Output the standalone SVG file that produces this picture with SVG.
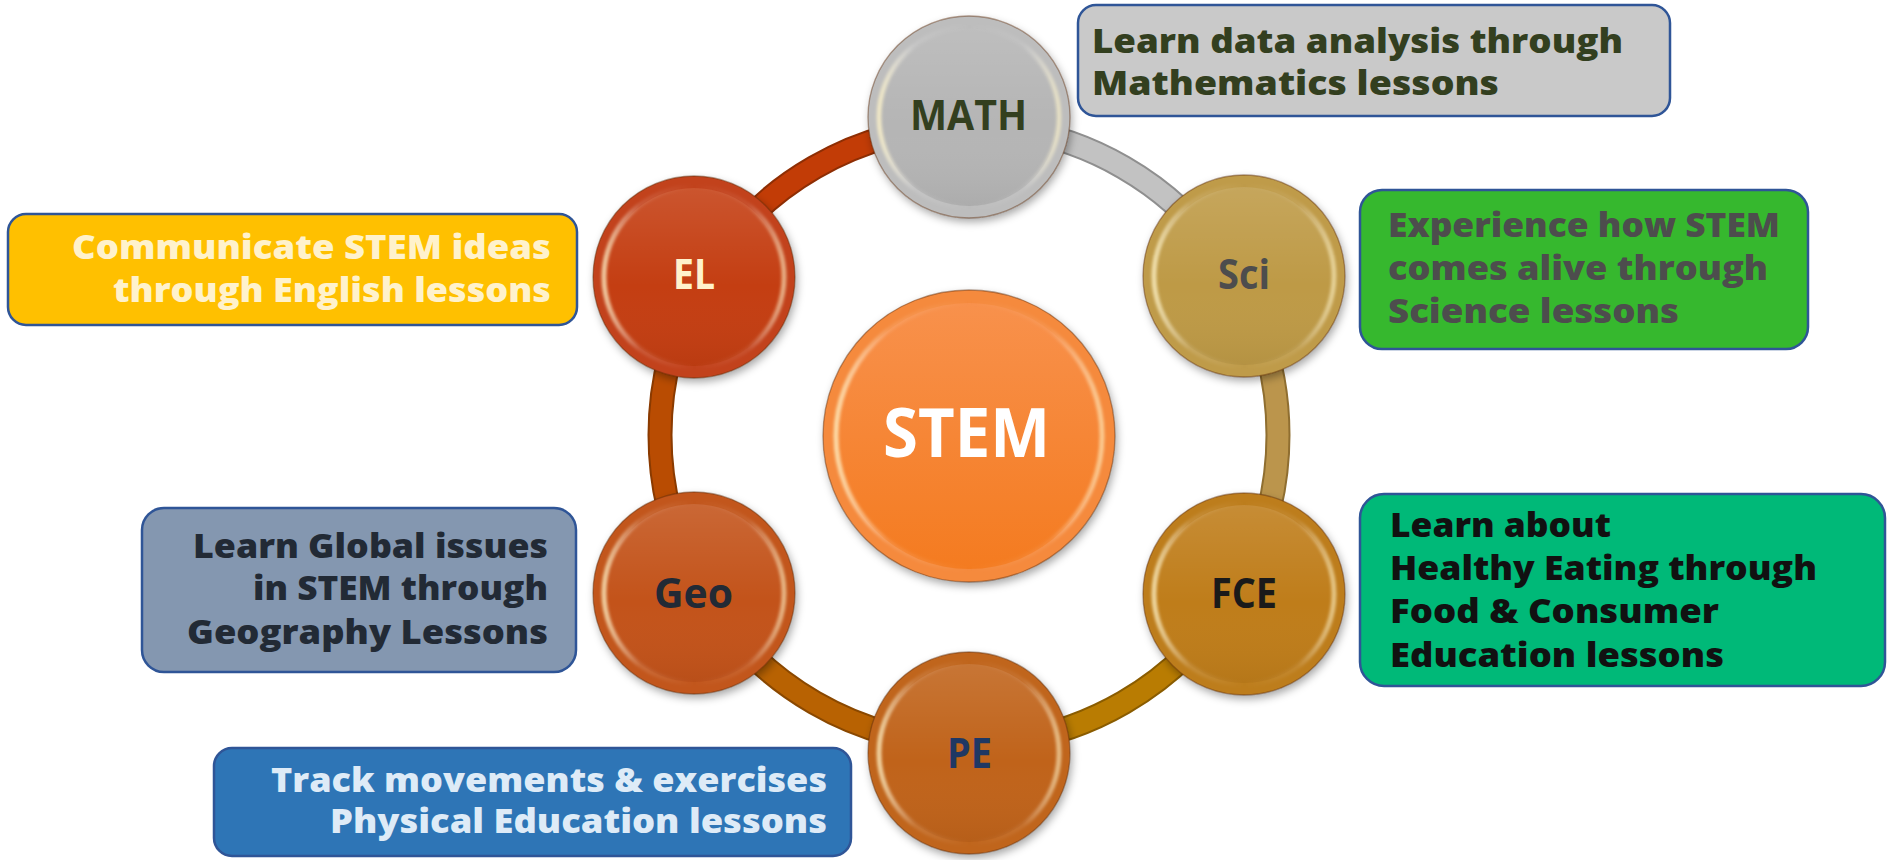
<svg xmlns="http://www.w3.org/2000/svg" width="1888" height="860" viewBox="0 0 1888 860">
<defs>
  <style>
    .bt{font-family:"Open Sans","Liberation Sans",sans-serif;font-weight:800;font-size:34px;}
    .nl{font-family:"Open Sans","Liberation Sans",sans-serif;font-weight:700;font-size:41px;text-anchor:middle;}
    .box{stroke:#2f5597;stroke-width:2.5;}
    .ringb{fill:none;stroke-width:25;stroke-linecap:butt;}
    .ring{fill:none;stroke-width:21;stroke-linecap:butt;}
    .edge{fill:none;stroke:#5a2a08;stroke-opacity:.45;stroke-width:1.3;}
    .rim{fill:none;stroke:url(#rimhl);stroke-width:5;}
  </style>
  <linearGradient id="gloss" x1="0" y1="0" x2="0" y2="1">
    <stop offset="0" stop-color="#fff" stop-opacity=".2"/>
    <stop offset=".5" stop-color="#fff" stop-opacity="0"/>
    <stop offset="1" stop-color="#000" stop-opacity=".08"/>
  </linearGradient>
  <linearGradient id="gloss2" x1="0" y1="0" x2="0" y2="1">
    <stop offset="0" stop-color="#fff" stop-opacity=".12"/>
    <stop offset=".55" stop-color="#fff" stop-opacity="0"/>
    <stop offset="1" stop-color="#000" stop-opacity=".05"/>
  </linearGradient>
  <linearGradient id="rimhl" x1="0" y1="0" x2="1" y2="0">
    <stop offset="0" stop-color="#fff4c8" stop-opacity=".75"/>
    <stop offset=".2" stop-color="#fff" stop-opacity=".12"/>
    <stop offset=".5" stop-color="#fff" stop-opacity="0"/>
    <stop offset=".8" stop-color="#fff" stop-opacity=".08"/>
    <stop offset="1" stop-color="#fff4c8" stop-opacity=".6"/>
  </linearGradient>
  <linearGradient id="stemg" x1="0" y1="0" x2="0" y2="1">
    <stop offset="0" stop-color="#f8914c"/>
    <stop offset="1" stop-color="#f47b20"/>
  </linearGradient>
  <filter id="shadow" x="-20%" y="-20%" width="140%" height="140%">
    <feDropShadow dx="2" dy="4" stdDeviation="4" flood-color="#000" flood-opacity=".35"/>
  </filter>
  <filter id="soft" x="-10%" y="-10%" width="120%" height="120%">
    <feGaussianBlur stdDeviation="1.4"/>
  </filter>
</defs>
<rect width="1888" height="860" fill="#fff"/>

<g id="connectors">
  <path class="ringb" stroke="#8e2e04" d="M701.4 280.5 A309 309 0 0 1 969 126"/>
  <path class="ring" stroke="#c23c06" d="M701.4 280.5 A309 309 0 0 1 969 126"/>
  <path class="ringb" stroke="#8f8f8f" d="M969 126 A309 309 0 0 1 1236.6 280.5"/>
  <path class="ring" stroke="#c2c2c2" d="M969 126 A309 309 0 0 1 1236.6 280.5"/>
  <path class="ringb" stroke="#8f6e30" d="M1236.6 280.5 A309 309 0 0 1 1236.6 589.5"/>
  <path class="ring" stroke="#bb954c" d="M1236.6 280.5 A309 309 0 0 1 1236.6 589.5"/>
  <path class="ringb" stroke="#8a5c00" d="M1236.6 589.5 A309 309 0 0 1 969 744"/>
  <path class="ring" stroke="#b97c02" d="M1236.6 589.5 A309 309 0 0 1 969 744"/>
  <path class="ringb" stroke="#8a4800" d="M969 744 A309 309 0 0 1 701.4 589.5"/>
  <path class="ring" stroke="#b86202" d="M969 744 A309 309 0 0 1 701.4 589.5"/>
  <path class="ringb" stroke="#8a3a00" d="M701.4 589.5 A309 309 0 0 1 701.4 280.5"/>
  <path class="ring" stroke="#b94c02" d="M701.4 589.5 A309 309 0 0 1 701.4 280.5"/>
</g>

<g id="node-stem">
  <circle cx="969" cy="436" r="146" fill="#f58a3e" filter="url(#shadow)"/>
  <circle cx="969" cy="436" r="146" fill="url(#gloss)" class="edge"/>
  <circle cx="969" cy="436" r="133" fill="url(#stemg)"/>
  <circle cx="969" cy="436" r="133" class="rim" filter="url(#soft)"/>
  <text x="966.5" y="457" class="nl" style="font-size:68px" fill="#fff" textLength="167" lengthAdjust="spacingAndGlyphs">STEM</text>
</g>

<g id="node-math">
  <circle cx="969" cy="117" r="101" fill="#bdbdbd" filter="url(#shadow)"/>
  <circle cx="969" cy="117" r="101" fill="url(#gloss)" class="edge"/>
  <circle cx="969" cy="117" r="89" fill="#b5b5b5"/>
  <circle cx="969" cy="117" r="89" fill="url(#gloss2)"/>
  <circle cx="969" cy="117" r="90" class="rim" filter="url(#soft)"/>
  <text x="968.5" y="130" class="nl" fill="#333f1f" textLength="117" lengthAdjust="spacingAndGlyphs">MATH</text>
</g>

<g id="node-sci">
  <circle cx="1244" cy="276" r="101" fill="#bf9b48" filter="url(#shadow)"/>
  <circle cx="1244" cy="276" r="101" fill="url(#gloss)" class="edge"/>
  <circle cx="1244" cy="276" r="89" fill="#be9a46"/>
  <circle cx="1244" cy="276" r="89" fill="url(#gloss2)"/>
  <circle cx="1244" cy="276" r="90" class="rim" filter="url(#soft)"/>
  <text x="1244" y="289" class="nl" fill="#4d4d4d" textLength="52" lengthAdjust="spacingAndGlyphs">Sci</text>
</g>

<g id="node-fce">
  <circle cx="1244" cy="594" r="101" fill="#bd7d1c" filter="url(#shadow)"/>
  <circle cx="1244" cy="594" r="101" fill="url(#gloss)" class="edge"/>
  <circle cx="1244" cy="594" r="89" fill="#bf7d1a"/>
  <circle cx="1244" cy="594" r="89" fill="url(#gloss2)"/>
  <circle cx="1244" cy="594" r="90" class="rim" filter="url(#soft)"/>
  <text x="1244" y="608" class="nl" fill="#1a1a1a" textLength="66" lengthAdjust="spacingAndGlyphs">FCE</text>
</g>

<g id="node-pe">
  <circle cx="969" cy="753" r="101" fill="#c0651c" filter="url(#shadow)"/>
  <circle cx="969" cy="753" r="101" fill="url(#gloss)" class="edge"/>
  <circle cx="969" cy="753" r="89" fill="#c0631a"/>
  <circle cx="969" cy="753" r="89" fill="url(#gloss2)"/>
  <circle cx="969" cy="753" r="90" class="rim" filter="url(#soft)"/>
  <text x="969.5" y="768" class="nl" fill="#1f3864" textLength="45" lengthAdjust="spacingAndGlyphs">PE</text>
</g>

<g id="node-geo">
  <circle cx="694" cy="593" r="101" fill="#c2561c" filter="url(#shadow)"/>
  <circle cx="694" cy="593" r="101" fill="url(#gloss)" class="edge"/>
  <circle cx="694" cy="593" r="89" fill="#c3531a"/>
  <circle cx="694" cy="593" r="89" fill="url(#gloss2)"/>
  <circle cx="694" cy="593" r="90" class="rim" filter="url(#soft)"/>
  <text x="693.5" y="608" class="nl" fill="#222a35" textLength="79" lengthAdjust="spacingAndGlyphs">Geo</text>
</g>

<g id="node-el">
  <circle cx="694" cy="277" r="101" fill="#c2421a" filter="url(#shadow)"/>
  <circle cx="694" cy="277" r="101" fill="url(#gloss)" class="edge"/>
  <circle cx="694" cy="277" r="89" fill="#c43e12"/>
  <circle cx="694" cy="277" r="89" fill="url(#gloss2)"/>
  <circle cx="694" cy="277" r="90" class="rim" filter="url(#soft)"/>
  <text x="694" y="289" class="nl" fill="#fff2cc" textLength="42" lengthAdjust="spacingAndGlyphs">EL</text>
</g>

<g id="box-math">
  <rect class="box" x="1078" y="5" width="592" height="111" rx="18" fill="#c9c9c9"/>
  <text class="bt" fill="#333f1f"><tspan x="1092" y="53" textLength="531" lengthAdjust="spacingAndGlyphs">Learn data analysis through</tspan><tspan x="1092" y="95" textLength="407" lengthAdjust="spacingAndGlyphs">Mathematics lessons</tspan></text>
</g>

<g id="box-el">
  <rect class="box" x="8" y="214" width="569" height="111" rx="18" fill="#ffc000"/>
  <text class="bt" fill="#fff2cc"><tspan x="72" y="259" textLength="479" lengthAdjust="spacingAndGlyphs">Communicate STEM ideas</tspan><tspan x="113" y="302" textLength="438" lengthAdjust="spacingAndGlyphs">through English lessons</tspan></text>
</g>

<g id="box-sci">
  <rect class="box" x="1360" y="190" width="448" height="159" rx="22" fill="#36b82e"/>
  <text class="bt" fill="#4d4d4d"><tspan x="1388" y="237" textLength="392" lengthAdjust="spacingAndGlyphs">Experience how STEM</tspan><tspan x="1388" y="280" textLength="380" lengthAdjust="spacingAndGlyphs">comes alive through</tspan><tspan x="1388" y="323" textLength="291" lengthAdjust="spacingAndGlyphs">Science lessons</tspan></text>
</g>

<g id="box-fce">
  <rect class="box" x="1360" y="494" width="525" height="192" rx="24" fill="#00b978"/>
  <text class="bt" fill="#111"><tspan x="1390" y="537" textLength="221" lengthAdjust="spacingAndGlyphs">Learn about</tspan><tspan x="1390" y="580" textLength="427" lengthAdjust="spacingAndGlyphs">Healthy Eating through</tspan><tspan x="1390" y="623" textLength="329" lengthAdjust="spacingAndGlyphs">Food &amp; Consumer</tspan><tspan x="1390" y="667" textLength="334" lengthAdjust="spacingAndGlyphs">Education lessons</tspan></text>
</g>

<g id="box-geo">
  <rect class="box" x="142" y="508" width="434" height="164" rx="22" fill="#8497b0"/>
  <text class="bt" fill="#222a35"><tspan x="193" y="558" textLength="355" lengthAdjust="spacingAndGlyphs">Learn Global issues</tspan><tspan x="253" y="600" textLength="295" lengthAdjust="spacingAndGlyphs">in STEM through</tspan><tspan x="187" y="644" textLength="361" lengthAdjust="spacingAndGlyphs">Geography Lessons</tspan></text>
</g>

<g id="box-pe">
  <rect class="box" x="214" y="748" width="637" height="108" rx="18" fill="#2e75b6"/>
  <text class="bt" fill="#deebf7"><tspan x="271" y="792" textLength="556" lengthAdjust="spacingAndGlyphs">Track movements &amp; exercises</tspan><tspan x="330" y="833" textLength="497" lengthAdjust="spacingAndGlyphs">Physical Education lessons</tspan></text>
</g>
</svg>
